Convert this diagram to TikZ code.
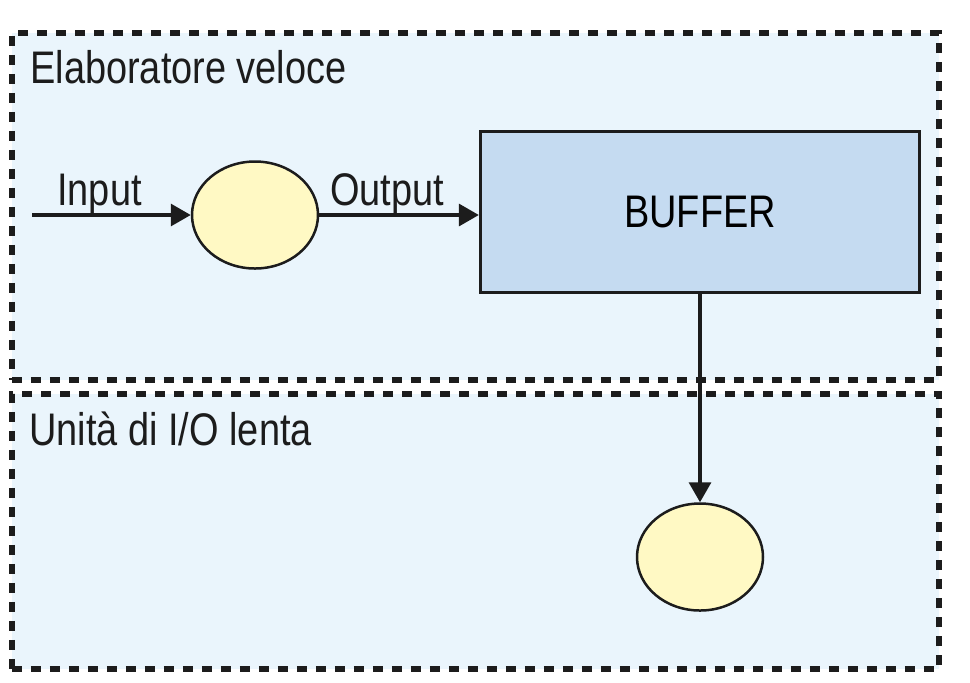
\documentclass[tikz,border=0pt]{standalone}
\usepackage{fontspec}
\setmainfont{Liberation Sans}[FakeStretch=0.83]
\usepackage{xcolor}
\usetikzlibrary{arrows.meta,positioning,shapes.geometric}

\definecolor{regionfill}{HTML}{EAF5FC}
\definecolor{bufferfill}{HTML}{C5DBF1}
\definecolor{procfill}{HTML}{FFF9C4}
\definecolor{ink}{HTML}{1C1C1C}

\begin{document}
\begin{tikzpicture}[
    >={Triangle[length=0.4cm,width=0.44cm]},
    flow/.style={->,line width=0.066cm,draw=ink},
    region/.style={draw=ink,fill=regionfill,line width=0.12cm,
      dash pattern=on 0.2cm off 0.18cm,minimum width=18.54cm},
    buffer/.style={draw=ink,fill=bufferfill,line width=0.066cm,
      minimum width=8.78cm,minimum height=3.22cm,font=\fontsize{26}{30}\selectfont},
    proc/.style={ellipse,draw=ink,fill=procfill,line width=0.05cm,
      minimum width=2.52cm,minimum height=2.14cm},
    title/.style={anchor=base west,inner sep=0pt,text=ink,font=\fontsize{26}{30}\selectfont},
    flowlabel/.style={anchor=base west,inner sep=0pt,text=ink,font=\fontsize{26}{30}\selectfont}
  ]
    \useasboundingbox (0,0) rectangle (19.4,-13.64);

    \node[region,minimum height=6.94cm] (fast) at (9.51,-4.13) {};
    \node[region,minimum height=5.5cm] (slow) at (9.51,-10.63) {};
    \node[title] (fasttitle) at (0.6,-1.66) {Elaboratore veloce};
    \node[title] (slowtitle) at (0.58,-8.9) {Unità di I/O lenta};

    \coordinate (in) at (0.64,-4.3);
    \node[proc] (p1) at (5.1,-4.3) {};
    \node[buffer] (buf) at (14.0,-4.24) {BUFFER};
    \node[proc] (p2) at (14.0,-11.14) {};
    \node[flowlabel] (inlabel) at (1.14,-4.1) {Input};
    \node[flowlabel] (outlabel) at (6.6,-4.1) {Output};

    \draw[flow] (in) -- (p1);
    \draw[flow] (p1) -- (p1 -| buf.west);
    \draw[flow] (buf) -- (p2);
  \end{tikzpicture}
\end{document}
